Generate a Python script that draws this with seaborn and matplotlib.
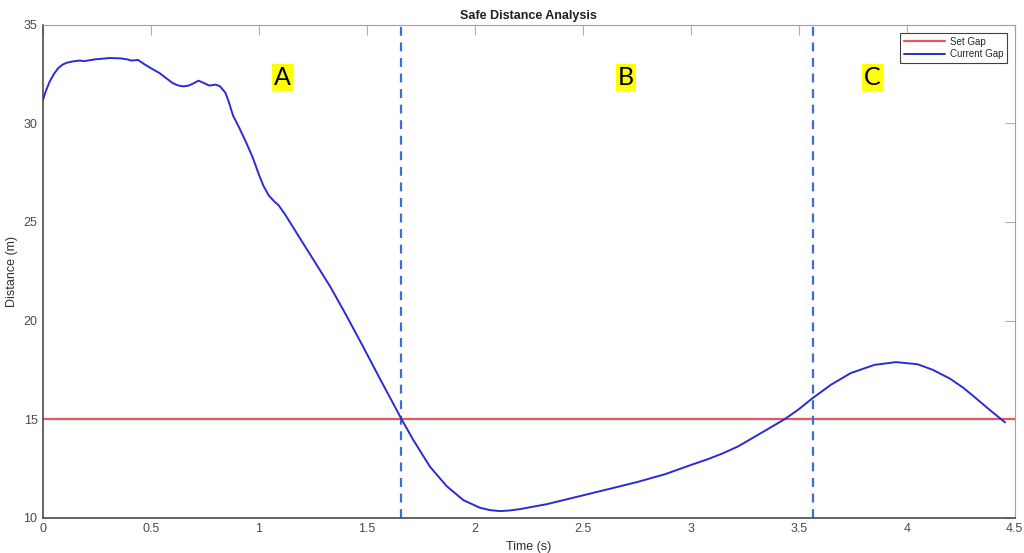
import matplotlib
matplotlib.use("Agg")
import matplotlib.pyplot as plt
import seaborn as sns
import pandas as pd

# ---- data ----
time_s = [0.00, 0.015, 0.03, 0.05, 0.07, 0.09, 0.11, 0.14, 0.17, 0.19, 0.24, 0.31,
          0.36, 0.39, 0.41, 0.44, 0.47, 0.50, 0.54, 0.57, 0.60, 0.625, 0.65, 0.675,
          0.70, 0.72, 0.745, 0.77, 0.80, 0.82, 0.845, 0.86, 0.88, 0.91, 0.94, 0.97,
          1.00, 1.02, 1.045, 1.07, 1.09, 1.12, 1.19, 1.26, 1.33, 1.40, 1.48, 1.56,
          1.66, 1.714, 1.792, 1.869, 1.946, 2.023, 2.07, 2.116, 2.16, 2.208, 2.332, 2.486,
          2.62, 2.75, 2.88, 3.00, 3.08, 3.15, 3.22, 3.27, 3.35, 3.435, 3.50, 3.56,
          3.65, 3.74, 3.85, 3.95, 4.05, 4.12, 4.20, 4.26, 4.31, 4.38, 4.455]
distance_m = [31.2, 31.7, 32.1, 32.5, 32.8, 32.98, 33.08, 33.15, 33.19, 33.16, 33.25, 33.32,
              33.30, 33.25, 33.19, 33.22, 33.00, 32.80, 32.55, 32.30, 32.05, 31.93, 31.88, 31.92,
              32.05, 32.17, 32.05, 31.92, 31.97, 31.88, 31.55, 31.10, 30.40, 29.75, 29.05, 28.30,
              27.40, 26.85, 26.35, 26.05, 25.86, 25.40, 24.17, 22.95, 21.72, 20.35, 18.72, 17.05,
              15.00, 13.95, 12.58, 11.60, 10.89, 10.50, 10.38, 10.33, 10.36, 10.43, 10.68, 11.09,
              11.45, 11.80, 12.20, 12.67, 12.97, 13.27, 13.62, 13.94, 14.45, 15.00, 15.50, 16.03,
              16.75, 17.33, 17.75, 17.89, 17.78, 17.50, 17.05, 16.60, 16.15, 15.50, 14.83]
set_gap = 15
boundaries = [1.66, 3.565]
region_labels = ["A", "B", "C"]
region_x = [1.11, 2.70, 3.84]
region_y = 32.35

df = pd.DataFrame({"Time": time_s, "Distance": distance_m})

sns.set_theme(style="white")
plt.rcParams["font.family"] = ["Liberation Sans", "DejaVu Sans"]

fig = plt.figure(figsize=(10.24, 5.53), dpi=100)
ax = fig.add_axes([0.042, 0.064, 0.949, 0.891])

red = "#e8575a"
blue = "#2b2bd6"
dash_blue = "#3b6fd6"
axis_gray = "#4a4a4a"

ax.axhline(set_gap, color=red, lw=1.6, label="Set Gap", zorder=2)
sns.lineplot(data=df, x="Time", y="Distance", ax=ax, color=blue, lw=1.4,
             label="Current Gap", zorder=3, sort=False)
for b in boundaries:
    ax.axvline(b, color=dash_blue, lw=1.6, ls=(0, (4, 3)), zorder=2)

for lab, xv in zip(region_labels, region_x):
    ax.text(xv, region_y, lab, fontsize=18, family=["Lato", "DejaVu Sans"],
            ha="center", va="center", color="black",
            bbox=dict(facecolor="#ffff00", edgecolor="none", pad=1.5))

ax.set_xlim(0, 4.5)
ax.set_ylim(10, 35)
ax.set_xticks([0, 0.5, 1, 1.5, 2, 2.5, 3, 3.5, 4, 4.5])
ax.set_xticklabels(["0", "0.5", "1", "1.5", "2", "2.5", "3", "3.5", "4", "4.5"])
ax.set_yticks([10, 15, 20, 25, 30, 35])

ax.set_title("Safe Distance Analysis", fontsize=9, fontweight="bold", color="#202020", pad=4)
ax.set_xlabel("Time (s)", fontsize=9, color="#303030", labelpad=4)
ax.set_ylabel("Distance (m)", fontsize=9, color="#303030", labelpad=4)

ax.tick_params(direction="in", length=7, width=0.8, colors="#b0b0b0",
               labelcolor=axis_gray, labelsize=9, top=True, right=True, pad=4)
for s in ["left", "bottom"]:
    ax.spines[s].set_color(axis_gray)
    ax.spines[s].set_linewidth(1.2)
for s in ["top", "right"]:
    ax.spines[s].set_color("#a0a0a0")
    ax.spines[s].set_linewidth(0.8)

leg = ax.legend(loc="upper right", fontsize=7, frameon=True, fancybox=False,
                edgecolor="#404040", framealpha=1, handlelength=4.2,
                borderaxespad=0.8, borderpad=0.4, labelspacing=0.25, handletextpad=0.5)
leg.get_frame().set_linewidth(0.8)

fig.savefig("out.png", dpi=100)
